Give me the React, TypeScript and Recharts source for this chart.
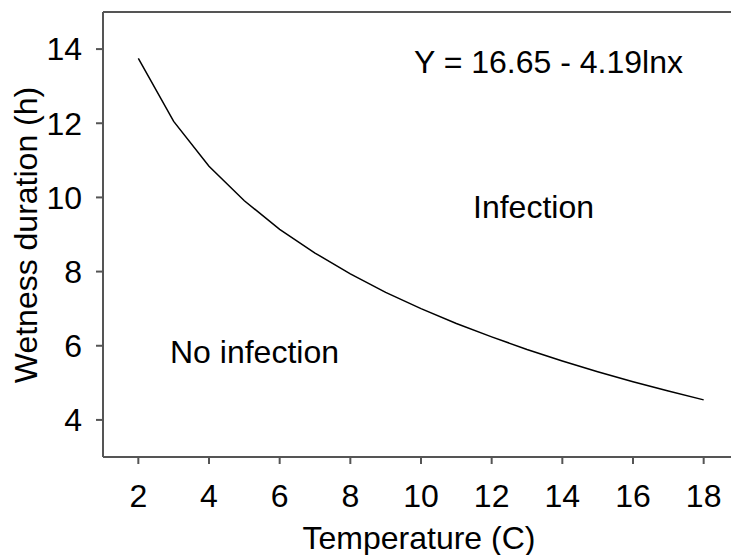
import { LineChart, Line, XAxis, YAxis, ReferenceLine } from 'recharts';

// temperature (C) and the wetness duration (h)
const temps = [2, 3, 4, 5, 6, 7, 8, 9, 10, 11, 12, 13, 14, 15, 16, 17, 18];
const wetness = [13.75, 12.05, 10.84, 9.91, 9.14, 8.5, 7.94, 7.44, 7.0, 6.6, 6.24, 5.9, 5.59, 5.3, 5.03, 4.78, 4.54];

const xTicks = [2, 4, 6, 8, 10, 12, 14, 16, 18];
const yTicks = [4, 6, 8, 10, 12, 14];

const font = '"Liberation Sans", Arial, sans-serif';
const axisColor = '#555';

export default function App() {
  const data = temps.map((t, i) => ({ t, w: wetness[i] }));

  return (
    <div style={{ position: 'absolute', left: 0, top: 0, width: 731, height: 555, overflow: 'hidden', background: '#fff' }}>
      <LineChart width={739} height={555} data={data} margin={{ top: 12, right: 0, bottom: 0, left: 0 }}>
        <XAxis
          dataKey="t"
          type="number"
          domain={[1, 19]}
          ticks={xTicks}
          height={98}
          tickSize={7}
          tickMargin={20}
          axisLine={{ stroke: axisColor, strokeWidth: 2 }}
          tickLine={{ stroke: axisColor, strokeWidth: 2 }}
          tick={{ fill: '#000', fontSize: 32, fontFamily: font }}
        />
        <YAxis
          type="number"
          domain={[3, 15]}
          ticks={yTicks}
          width={103}
          tickSize={7}
          tickMargin={14}
          axisLine={{ stroke: axisColor, strokeWidth: 2 }}
          tickLine={{ stroke: axisColor, strokeWidth: 2 }}
          tick={{ fill: '#000', fontSize: 32, fontFamily: font }}
        />
        <ReferenceLine y={15} stroke={axisColor} strokeWidth={2} />
        <Line type="linear" dataKey="w" stroke="#000" strokeWidth={1.5} dot={false} isAnimationActive={false} />
      </LineChart>
      <svg width={731} height={555} style={{ position: 'absolute', left: 0, top: 0, pointerEvents: 'none' }}>
        <g fontFamily={font} fontSize={32} fill="#000">
          <text x={414} y={73}>Y = 16.65 - 4.19lnx</text>
          <text x={473} y={218}>Infection</text>
          <text x={170} y={363}>No infection</text>
          <text x={419} y={549} textAnchor="middle">Temperature (C)</text>
          <text x={37} y={235} textAnchor="middle" transform="rotate(-90 37 235)">Wetness duration (h)</text>
        </g>
      </svg>
    </div>
  );
}
